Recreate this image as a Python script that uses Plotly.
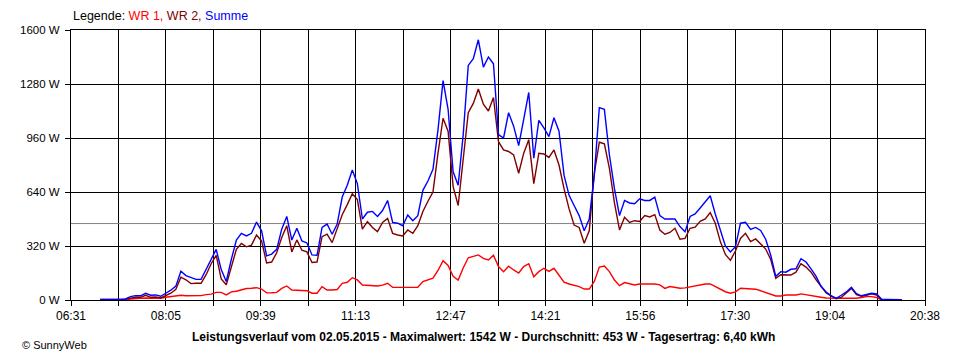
import plotly.graph_objects as go

# ---- data ----
start_min = 420          # 07:00, samples every 5 minutes
step_min = 5
wr1 = [0, 0, 0, 0, 0, 0,
       6, 10, 10, 12, 12, 12, 10, 16, 20, 24,
       28, 25, 25, 25, 26, 32, 35, 45, 45, 30,
       48, 52, 62, 68, 70, 73, 65, 42, 43, 45,
       69, 83, 59, 59, 59, 55, 40, 40, 79, 59,
       59, 62, 99, 105, 132, 119, 89, 88, 83, 83,
       88, 99, 75, 75, 78, 79, 79, 76, 109, 120,
       130, 175, 233, 205, 140, 118, 190, 250, 257, 267,
       247, 237, 265, 198, 168, 200, 178, 160, 198, 215,
       138, 168, 188, 170, 188, 150, 105, 95, 89, 79,
       65, 65, 110, 195, 201, 168, 118, 85, 103, 95,
       89, 95, 95, 93, 95, 90, 69, 80, 75, 70,
       72, 78, 83, 90, 95, 95, 80, 62, 49, 40,
       48, 70, 67, 67, 64, 55, 45, 35, 24, 24,
       30, 30, 30, 36, 30, 26, 20, 16, 12, 10,
       10, 10, 10, 10, 10, 15, 20, 20, 15, 0,
       0, 0, 0, 0]
wr2 = [4, 4, 0, 0, 4, 5,
       12, 16, 16, 28, 16, 18, 12, 24, 40, 63,
       135, 120, 97, 99, 99, 150, 215, 265, 125, 90,
       200, 300, 335, 315, 325, 385, 350, 220, 225, 280,
       370, 440, 285, 356, 295, 285, 222, 225, 375, 390,
       340, 420, 505, 565, 630, 595, 420, 464, 430, 405,
       460, 484, 395, 385, 380, 415, 395, 440, 525, 585,
       640, 870, 1077, 1000, 672, 560, 830, 1110, 1165, 1250,
       1160, 1120, 1200, 938, 889, 880, 860, 751, 870, 950,
       690, 870, 865, 845, 889, 800, 660, 540, 444, 430,
       336, 410, 751, 935, 925, 780, 575, 415, 490, 460,
       470, 465, 500, 492, 506, 415, 390, 400, 425, 360,
       365, 425, 432, 466, 480, 518, 455, 346, 270, 235,
       290, 365, 395, 346, 362, 335, 302, 240, 128, 150,
       148, 148, 165, 215, 195, 165, 120, 78, 42, 25,
       8, 15, 45, 69, 32, 22, 28, 36, 30, 2,
       0, 0, 0, 0]
summe = [4, 4, 0, 0, 4, 6,
         20, 26, 25, 40, 28, 30, 22, 40, 58, 82,
         170, 145, 135, 122, 122, 180, 245, 300, 180, 110,
         240, 355, 395, 380, 395, 462, 410, 262, 272, 300,
         420, 495, 355, 425, 350, 338, 267, 265, 430, 450,
         390, 450, 610, 680, 770, 690, 480, 520, 525, 495,
         530, 590, 460, 455, 440, 504, 470, 500, 650, 705,
         775, 1010, 1300, 1130, 760, 680, 980, 1390, 1430, 1542,
         1380, 1440, 1400, 980, 960, 1110, 1030, 915, 1070, 1230,
         840, 1065, 1020, 968, 1080, 1000, 740, 620, 560, 500,
         410, 480, 740, 1140, 1130, 860, 660, 500, 590, 575,
         570, 600, 590, 590, 610, 500, 480, 480, 480, 435,
         405, 495, 510, 545, 580, 618, 510, 410, 320, 285,
         316, 455, 460, 419, 430, 412, 360, 265, 140, 168,
         165, 182, 185, 245, 225, 185, 140, 80, 47, 25,
         10, 28, 48, 75, 38, 25, 32, 40, 36, 4,
         3, 3, 2, 2]
average_w = 453
x_labels = ["06:31", "08:05", "09:39", "11:13", "12:47",
            "14:21", "15:56", "17:30", "19:04", "20:38"]
y_ticks = [0, 320, 640, 960, 1280, 1600]
x_start, x_end = 391, 1238   # 06:31 .. 20:38 in minutes

times = [start_min + i * step_min for i in range(len(summe))]

# gridlines every half label interval
n_grid = 2 * (len(x_labels) - 1)
grid_pos = [x_start + k * (x_end - x_start) / n_grid for k in range(n_grid + 1)]
grid_txt = [x_labels[k // 2] if k % 2 == 0 else "" for k in range(n_grid + 1)]

fig = go.Figure()
for name, vals, col in [("WR 1", wr1, "#ff0000"),
                        ("WR 2", wr2, "#800000"),
                        ("Summe", summe, "#0000ff")]:
    fig.add_trace(go.Scatter(x=times, y=vals, mode="lines", name=name,
                             line=dict(color=col, width=1.4)))

fig.add_shape(type="line", xref="x", yref="y", x0=x_start, x1=x_end,
              y0=average_w, y1=average_w, line=dict(color="#808080", width=1),
              layer="between")

base_font = "Liberation Sans, Arial, sans-serif"
narrow_font = "Liberation Sans Narrow, Arial Narrow, Liberation Sans, Arial, sans-serif"

# page body has an 8px default margin: figure sits at (8, 8)
fig.update_layout(
    width=944, height=344,
    margin=dict(l=52, r=22, t=22, b=52),
    paper_bgcolor="white", plot_bgcolor="white",
    showlegend=False,
    font=dict(family=base_font, size=11, color="black"),
    xaxis=dict(range=[x_start, x_end], tickmode="array", tickvals=grid_pos,
               ticktext=grid_txt, showgrid=True, gridcolor="black", gridwidth=1,
               showline=True, linecolor="black", linewidth=1, mirror=True,
               ticks="outside", ticklen=5, tickcolor="black", zeroline=False,
               tickfont=dict(family=narrow_font, size=12, color="black")),
    yaxis=dict(range=[0, 1600], tickmode="array", tickvals=y_ticks,
               ticktext=[f"{v} W" for v in y_ticks], showgrid=True,
               gridcolor="black", gridwidth=1, showline=True, linecolor="black",
               linewidth=1, mirror=True, ticks="outside", ticklen=5,
               tickcolor="black", zeroline=False, ticklabelstandoff=3,
               tickfont=dict(family=base_font, size=11.5, color="black")),
)

fig.add_annotation(
    xref="paper", yref="paper", x=0, y=1.052, xanchor="left", yanchor="middle",
    showarrow=False, font=dict(family=base_font, size=12.5, color="black"),
    text=("Legende: <span style='color:#ff0000'>WR 1,</span> "
          "<span style='color:#800000'>WR 2,</span> "
          "<span style='color:#0000ff'>Summe</span>"))
fig.add_annotation(
    xref="paper", yref="paper", x=0.4828, y=-0.137, xanchor="center", yanchor="middle",
    showarrow=False, font=dict(family=narrow_font, size=12, color="black"),
    text=("<b>Leistungsverlauf vom 02.05.2015 - Maximalwert: 1542 W - "
          "Durchschnitt: 453 W - Tagesertrag: 6,40 kWh</b>"))
fig.add_annotation(
    xref="paper", yref="paper", x=-0.0595, y=-0.168, xanchor="left", yanchor="middle",
    showarrow=False, font=dict(family=base_font, size=11, color="black"),
    text="© SunnyWeb")

fig.write_html("out.html")
